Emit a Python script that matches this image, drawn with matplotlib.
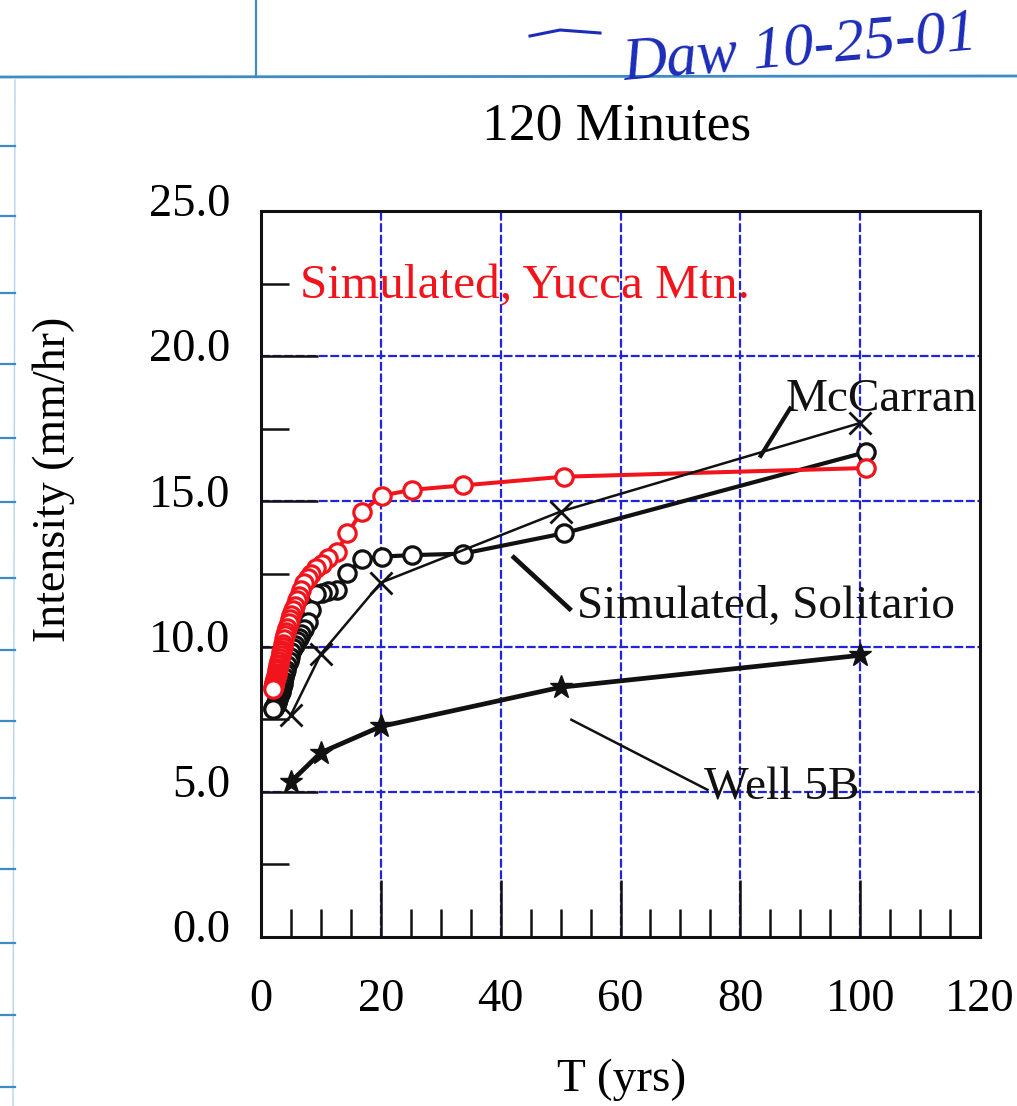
import matplotlib
matplotlib.use("Agg")
import matplotlib.pyplot as plt
from matplotlib.lines import Line2D
from matplotlib.transforms import ScaledTranslation
from matplotlib.ticker import MultipleLocator

# ---------------- data ----------------
t_sim = [101.0, 50.5, 33.67, 25.25, 20.2, 16.83, 14.43, 12.63, 11.22, 10.1,
         9.18, 8.42, 7.77, 7.21, 6.73, 6.31, 5.94, 5.61, 5.32, 5.05,
         4.81, 4.59, 4.39, 4.21, 4.04, 3.88, 3.74, 3.61, 3.48, 3.37,
         3.26, 3.16, 3.06, 2.97, 2.89, 2.81, 2.73, 2.66, 2.59, 2.53,
         2.46, 2.40, 2.35, 2.30, 2.24, 2.20, 2.15, 2.10, 2.06, 2.02]

yucca = [16.15, 15.85, 15.55, 15.4, 15.2, 14.65, 13.9, 13.25, 13.05, 12.85,
         12.7, 12.5, 12.35, 12.2, 11.95, 11.75, 11.6, 11.4, 11.25, 11.1,
         10.95, 10.8, 10.65, 10.5, 10.4, 10.25, 10.1, 10.0, 9.9, 9.8,
         9.7, 9.6, 9.5, 9.4, 9.35, 9.25, 9.2, 9.1, 9.05, 9.0,
         8.95, 8.9, 8.85, 8.8, 8.75, 8.7, 8.7, 8.65, 8.6, 8.55]

solitario = [16.7, 13.9, 13.2, 13.15, 13.1, 13.0, 12.55, 11.95, 11.9, 11.85,
             11.8, 11.25, 10.85, 10.6, 10.45, 10.3, 10.2, 10.05, 9.95, 9.8,
             9.65, 9.5, 9.35, 9.2, 9.1, 8.95, 8.8, 8.7, 8.6, 8.5,
             8.45, 8.4, 8.35, 8.3, 8.25, 8.2, 8.15, 8.1, 8.1, 8.05,
             8.0, 8.0, 7.95, 7.95, 7.9, 7.9, 7.9, 7.9, 7.88, 7.86]

t_obs = [5, 10, 20, 50, 100]
mccarran = [7.65, 9.75, 12.2, 14.65, 17.7]
well5b = [5.35, 6.35, 7.25, 8.6, 9.7]

x_ticks = [0, 20, 40, 60, 80, 100, 120]
y_ticks = [0.0, 5.0, 10.0, 15.0, 20.0, 25.0]
y_tick_labels = ["0.0", "5.0", "10.0", "15.0", "20.0", "25.0"]

# ---------------- figure ----------------
W, H = 1017, 1106
fig = plt.figure(figsize=(W / 100, H / 100), dpi=100)
fig.patch.set_facecolor("white")

SERIF = ["Liberation Serif", "DejaVu Serif"]
plt.rcParams["font.family"] = SERIF

L, R, T, B = 261, 980, 211, 937
ax = fig.add_axes([L / W, 1 - B / H, (R - L) / W, (B - T) / H])

RED = "#f2141c"
BLK = "#111111"
GRID = "#2323dd"

ax.plot(t_obs, well5b, color=BLK, lw=3.4, marker="*", ms=17, mfc=BLK, mec=BLK, zorder=3)
ax.plot(t_sim, solitario, color=BLK, lw=3.0, marker="o", ms=12.5, mfc="white",
        mec=BLK, mew=2.3, zorder=4)
ax.plot(t_sim, yucca, color=RED, lw=2.9, marker="o", ms=12.5, mfc="white",
        mec=RED, mew=2.3, zorder=5)
ax.plot(t_obs, mccarran, color=BLK, lw=1.8, marker="x", ms=16, mew=2.0, zorder=6)

ax.set_xlim(0, 120)
ax.set_ylim(0, 25)
ax.set_xticks(x_ticks)
ax.set_xticklabels([str(v) for v in x_ticks])
ax.set_yticks(y_ticks)
ax.set_yticklabels(y_tick_labels)
ax.xaxis.set_minor_locator(MultipleLocator(5))
ax.yaxis.set_minor_locator(MultipleLocator(2.5))

ax.tick_params(which="major", direction="in", length=41, width=1.8, color=BLK,
               labelsize=33.5, top=False, right=False)
ax.tick_params(which="minor", direction="in", length=20, width=1.8, color=BLK,
               top=False, right=False)
ax.tick_params(axis="x", which="major", pad=30)
ax.tick_params(axis="y", which="major", pad=22)

for lab in ax.get_yticklabels():
    lab.set_transform(lab.get_transform() + ScaledTranslation(0, 11 / 100, fig.dpi_scale_trans))

for s in ax.spines.values():
    s.set_linewidth(2.2)
    s.set_color(BLK)

for xv in [20, 40, 60, 80, 100]:
    ax.axvline(xv, color=GRID, lw=1.6, ls=(0, (4, 1.2)), zorder=1)
for yv in [5, 10, 15, 20]:
    ax.axhline(yv, color=GRID, lw=1.6, ls=(0, (4, 1.2)), zorder=1)

ax.set_xlabel("T (yrs)", fontsize=34, va="center")
ax.xaxis.set_label_coords((622 - L) / (R - L), (B - 1080) / (B - T))
ax.set_ylabel("Intensity (mm/hr)", fontsize=33, va="center", ha="center")
ax.yaxis.set_label_coords((54 - L) / (R - L), (B - 479) / (B - T))

ax.text((617 - L) / (R - L), (B - 127) / (B - T), "120 Minutes", transform=ax.transAxes,
        fontsize=38.5, ha="center", va="center")

# annotations
ax.text(6.5, 22.0, "Simulated, Yucca Mtn.", color=RED, fontsize=35.5, ha="left", va="baseline")
ax.text(87.5, 18.1, "McCarran", color=BLK, fontsize=34, ha="left", va="baseline", zorder=7)
ax.text(52.7, 10.97, "Simulated, Solitario", color=BLK, fontsize=34, ha="left", va="baseline")
ax.text(74.0, 4.72, "Well 5B", color=BLK, fontsize=34, ha="left", va="baseline")

ax.plot([42.2, 51.5], [13.07, 11.3], color=BLK, lw=3.4, zorder=6)
ax.plot([88.3, 83.4], [18.2, 16.57], color=BLK, lw=3.0, zorder=6)
ax.plot([51.8, 74.5], [7.48, 5.07], color=BLK, lw=1.8, zorder=6)

# notebook paper lines and handwritten note
PAPER = "#3d8cc4"
fig.add_artist(Line2D([0, 1], [1 - 77 / H, 1 - 76 / H], transform=fig.transFigure,
                      color=PAPER, lw=2.0))
fig.add_artist(Line2D([256 / W, 256 / W], [1, 1 - 77 / H], transform=fig.transFigure,
                      color=PAPER, lw=1.6))
fig.add_artist(Line2D([15 / W, 13 / W], [1 - 80 / H, 0], transform=fig.transFigure,
                      color="#b8d4ec", lw=1.0))
for yy in [146, 216, 293, 364, 438, 502, 578, 650, 721, 798, 869, 943, 1015, 1087]:
    fig.add_artist(Line2D([0, 15 / W], [1 - yy / H, 1 - yy / H], transform=fig.transFigure,
                          color=PAPER, lw=1.6))

fig.add_artist(Line2D([530 / W, 560 / W, 600 / W], [1 - 36 / H, 1 - 30 / H, 1 - 33 / H],
                      transform=fig.transFigure, color="#1c2cb8", lw=2.2))
fig.text(800 / W, 1 - 50 / H, "Daw 10-25-01", color="#1c2cb8", fontsize=44,
         style="italic", ha="center", va="center", rotation=5)

fig.savefig("out.png", dpi=100, facecolor="white")
